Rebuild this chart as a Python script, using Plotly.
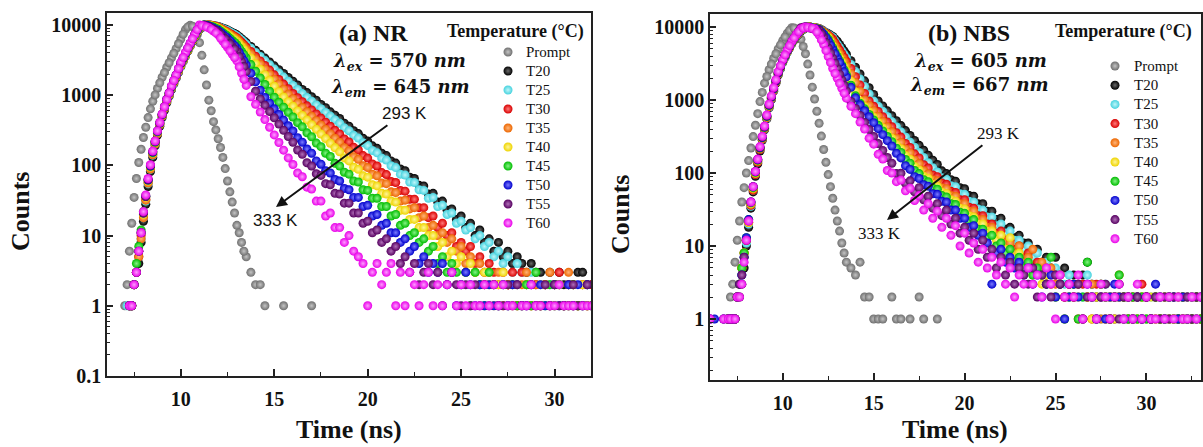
import plotly.graph_objects as go

# ---------------- data ----------------
time_ns = [6.0, 6.25, 6.5, 6.75, 7.0, 7.25, 7.5, 7.75, 8.0, 8.25,
           8.5, 8.75, 9.0, 9.25, 9.5, 9.75, 10.0, 10.25, 10.5, 10.75,
           11.0, 11.25, 11.5, 11.75, 12.0, 12.25, 12.5, 12.75, 13.0, 13.25,
           13.5, 13.75, 14.0, 14.25, 14.5, 14.75, 15.0, 15.25, 15.5, 15.75,
           16.0, 16.25, 16.5, 16.75, 17.0, 17.25, 17.5, 17.75, 18.0, 18.25,
           18.5, 18.75, 19.0, 19.25, 19.5, 19.75, 20.0, 20.25, 20.5, 20.75,
           21.0, 21.25, 21.5, 21.75, 22.0, 22.25, 22.5, 22.75, 23.0, 23.25,
           23.5, 23.75, 24.0, 24.25, 24.5, 24.75, 25.0, 25.25, 25.5, 25.75,
           26.0, 26.25, 26.5, 26.75, 27.0, 27.25, 27.5, 27.75, 28.0, 28.25,
           28.5, 28.75, 29.0, 29.25, 29.5, 29.75, 30.0, 30.25, 30.5, 30.75,
           31.0, 31.25, 31.5, 31.75, 32.0, 32.25, 32.5, 32.75, 33.0]

# extra channels read on the steep rise / peak region
time_fine = [7.125, 7.375, 7.625, 7.875, 8.125, 8.375, 8.625, 8.875, 9.125, 9.375,
             9.625, 9.875, 10.125, 10.375, 10.625, 10.875, 11.125, 11.375, 11.625, 11.875,
             12.125, 12.375, 12.625, 12.875, 13.125, 13.375]

series_names = ["Prompt", "T20", "T25", "T30", "T35", "T40", "T45", "T50", "T55", "T60"]

# ---- (a) NR ----
nr_prompt = [0, 0, 0, 0, 1, 6, 35, 110, 250, 480,
             820, 1250, 1800, 2500, 3400, 4600, 6300, 8600, 9900, 8800,
             5600, 2300, 850, 420, 240, 130, 60, 30, 14, 8,
             5, 3, 2, 2, 1, 0, 0, 0, 1, 0,
             0, 0, 0, 0, 1, 0, 0, 0, 0, 0,
             0, 0, 0, 0, 0, 0, 0, 0, 0, 0,
             0, 0, 0, 0, 0, 0, 0, 0, 0, 0,
             0, 0, 0, 0, 0, 0, 0, 0, 0, 0,
             0, 0, 0, 0, 0, 0, 0, 0, 0, 0,
             0, 0, 0, 0, 0, 0, 0, 0, 0, 0,
             0, 0, 0, 0, 0, 0, 0, 0, 0]
nr_t20 = [0, 0, 0, 0, 0, 1, 2, 4, 16, 50,
          130, 270, 480, 780, 1200, 1750, 2550, 3600, 5000, 6800,
          8700, 9700, 10000, 9770, 9550, 9020, 8510, 7850, 7240, 6380,
          5620, 4950, 4360, 3840, 3380, 2980, 2620, 2310, 2040, 1790,
          1580, 1400, 1210, 1090, 950, 850, 740, 665, 580, 520,
          465, 400, 362, 312, 284, 244, 222, 190, 175, 149,
          138, 116, 108, 89, 84, 68, 65, 52, 51, 39,
          40, 30, 31, 23, 24, 17, 19, 13, 15, 10,
          12, 8, 9, 6, 8, 5, 6, 4, 5, 4,
          3, 4, 3, 3, 2, 3, 2, 3, 2, 2,
          1, 3, 3, 2, 2, 1, 2, 1, 2]
nr_t25 = [0, 0, 0, 0, 0, 1, 2, 5, 18, 55,
          140, 285, 500, 810, 1230, 1800, 2600, 3650, 5050, 6900,
          8800, 9800, 10000, 9770, 9440, 8870, 8320, 7640, 7000, 6110,
          5330, 4670, 4070, 3560, 3110, 2720, 2370, 2070, 1810, 1580,
          1380, 1210, 1055, 929, 822, 728, 643, 569, 504, 446,
          398, 343, 312, 268, 245, 210, 192, 163, 151, 127,
          119, 99, 93, 75, 73, 58, 57, 45, 44, 34,
          35, 26, 27, 20, 21, 15, 16, 12, 13, 9,
          10, 7, 8, 5, 6, 4, 5, 3, 4, 3,
          2, 3, 2, 1, 2, 2, 1, 2, 1, 2,
          2, 1, 2, 2, 1, 2, 1, 1, 2]
nr_t30 = [0, 0, 0, 0, 0, 1, 2, 5, 19, 58,
          145, 290, 510, 830, 1270, 1850, 2700, 3750, 5150, 7000,
          9000, 9900, 10000, 9770, 9330, 8610, 7940, 7240, 6610, 5680,
          4870, 4190, 3590, 3080, 2650, 2280, 1950, 1680, 1440, 1240,
          1060, 923, 807, 706, 618, 541, 472, 413, 361, 316,
          281, 238, 216, 181, 166, 138, 127, 105, 98, 79,
          74, 59, 57, 44, 43, 33, 33, 25, 25, 18,
          19, 13, 15, 10, 11, 7, 8, 6, 7, 4,
          5, 3, 4, 3, 2, 3, 2, 3, 1, 3,
          2, 1, 2, 1, 2, 1, 2, 3, 1, 2,
          1, 1, 2, 1, 2, 1, 1, 2, 1]
nr_t35 = [0, 0, 0, 0, 0, 1, 2, 5, 18, 56,
          142, 285, 505, 820, 1250, 1830, 2650, 3700, 5100, 6950,
          9100, 9900, 10000, 9660, 9230, 8470, 7760, 7000, 6310, 5350,
          4540, 3850, 3270, 2770, 2350, 1995, 1690, 1440, 1220, 1030,
          891, 772, 668, 579, 501, 434, 376, 326, 282, 244,
          214, 179, 161, 133, 122, 99, 93, 75, 71, 56,
          55, 42, 41, 31, 32, 24, 25, 18, 19, 13,
          14, 10, 11, 8, 9, 6, 7, 4, 5, 3,
          4, 2, 3, 2, 3, 1, 2, 2, 1, 2,
          3, 1, 2, 1, 2, 3, 1, 2, 1, 3,
          2, 1, 2, 1, 1, 2, 1, 1, 2]
nr_t40 = [0, 0, 0, 0, 0, 1, 2, 6, 20, 60,
          150, 300, 520, 850, 1300, 1900, 2750, 3800, 5200, 7100,
          9100, 10000, 9890, 9550, 9020, 8180, 7410, 6610, 5890, 4900,
          4070, 3380, 2810, 2340, 1945, 1620, 1340, 1120, 942, 809,
          695, 597, 514, 442, 379, 326, 280, 241, 207, 178,
          156, 128, 116, 94, 88, 71, 68, 53, 51, 40,
          39, 31, 30, 23, 23, 17, 17, 13, 13, 10,
          10, 7, 8, 5, 6, 4, 5, 3, 4, 3,
          2, 3, 2, 1, 2, 3, 2, 1, 2, 1,
          2, 1, 1, 2, 2, 1, 2, 2, 1, 1,
          2, 1, 2, 1, 1, 2, 1, 2, 1]
nr_t45 = [0, 0, 0, 0, 0, 1, 2, 7, 22, 62,
          152, 300, 525, 860, 1310, 1920, 2800, 3850, 5300, 7200,
          9300, 10000, 9770, 9330, 8710, 7760, 6920, 6030, 5250, 4220,
          3400, 2730, 2190, 1760, 1420, 1140, 936, 794, 674, 572,
          490, 406, 354, 291, 256, 208, 185, 149, 134, 107,
          98, 80, 75, 60, 58, 45, 44, 34, 34, 26,
          26, 19, 20, 14, 15, 10, 11, 8, 9, 6,
          7, 4, 5, 3, 4, 3, 2, 3, 1, 3,
          2, 1, 3, 2, 1, 2, 1, 2, 1, 1,
          2, 1, 3, 1, 1, 2, 1, 2, 1, 1,
          2, 1, 1, 1, 1, 2, 1, 1, 1]
nr_t50 = [0, 0, 0, 0, 0, 1, 2, 6, 21, 62,
          155, 305, 530, 870, 1320, 1930, 2850, 3950, 5400, 7300,
          9700, 10000, 9660, 9020, 8320, 7330, 6460, 5500, 4680, 3550,
          2700, 2050, 1550, 1180, 929, 771, 640, 532, 442, 367,
          310, 248, 214, 171, 149, 116, 104, 84, 78, 63,
          60, 47, 45, 35, 35, 26, 27, 19, 20, 14,
          15, 11, 11, 8, 9, 6, 7, 4, 5, 3,
          4, 3, 4, 2, 3, 1, 2, 3, 2, 1,
          2, 1, 2, 1, 1, 2, 1, 2, 2, 1,
          1, 2, 1, 2, 1, 1, 2, 1, 1, 2,
          1, 2, 1, 2, 1, 1, 2, 1, 1]
nr_t55 = [0, 0, 0, 0, 0, 1, 2, 6, 21, 63,
          158, 310, 535, 880, 1330, 1950, 2880, 4000, 5450, 7400,
          9800, 9950, 9440, 8710, 7940, 6840, 5890, 4950, 4170, 3010,
          2180, 1570, 1140, 884, 719, 586, 477, 388, 316, 258,
          214, 166, 144, 109, 98, 76, 72, 55, 53, 40,
          39, 29, 29, 21, 21, 15, 16, 11, 12, 8,
          9, 6, 7, 4, 5, 3, 4, 2, 3, 4,
          2, 3, 1, 2, 3, 2, 1, 2, 1, 2,
          1, 2, 1, 2, 1, 1, 2, 1, 2, 1,
          1, 2, 1, 1, 2, 1, 2, 1, 1, 1,
          2, 1, 1, 2, 1, 1, 1, 2, 1]
nr_t60 = [0, 0, 0, 0, 0, 1, 2, 6, 22, 65,
          160, 310, 540, 870, 1350, 1950, 2950, 4070, 5500, 7400,
          10000, 9660, 9120, 8220, 7240, 5890, 4790, 3850, 3090, 2070,
          1380, 951, 741, 577, 449, 349, 272, 212, 165, 128,
          103, 78, 69, 49, 46, 31, 31, 19, 21, 13,
          13, 8, 10, 6, 5, 4, 1, 3, 4, 2,
          3, 4, 1, 3, 1, 3, 2, 1, 2, 3,
          1, 2, 1, 2, 3, 1, 2, 1, 2, 1,
          1, 2, 1, 2, 1, 2, 1, 1, 0, 1,
          1, 2, 1, 1, 0, 1, 1, 2, 1, 1,
          1, 0, 1, 1, 1, 2, 1, 1, 1]

nr_prompt_fine = [2, 15, 65, 170, 350, 640, 1010, 1500, 2100, 2900, 3950, 5400, 7400,
                  9400, 9600, 7200, 3700, 1400, 600, 320, 180, 90, 42, 21, 11, 6]
nr_t20_fine = [0, 1, 3, 8, 28, 82, 190, 360, 610, 970, 1450, 2110, 3030,
               4240, 5830, 7700, 9200, 9900, 9900, 9660, 9280, 8760, 8170, 7540, 6800, 5990]
nr_t25_fine = [1, 1, 3, 9, 31, 88, 200, 380, 640, 1000, 1490, 2160, 3080,
               4290, 5900, 7800, 9300, 9900, 9880, 9600, 9150, 8590, 7970, 7310, 6540, 5710]
nr_t30_fine = [0, 1, 3, 10, 33, 92, 205, 385, 650, 1030, 1530, 2230, 3180,
               4400, 6000, 7940, 9440, 9950, 9880, 9550, 8960, 8270, 7580, 6920, 6130, 5260]
nr_t35_fine = [0, 1, 3, 9, 32, 89, 201, 380, 645, 1010, 1510, 2200, 3130,
               4340, 5950, 7950, 9490, 9950, 9830, 9440, 8840, 8110, 7370, 6650, 5810, 4930]
nr_t40_fine = [0, 1, 3, 11, 35, 95, 212, 395, 665, 1050, 1570, 2290, 3230,
               4450, 6080, 8040, 9540, 9950, 9720, 9280, 8590, 7790, 7000, 6240, 5370, 4470]
nr_t45_fine = [0, 1, 4, 12, 37, 97, 214, 397, 670, 1060, 1590, 2320, 3280,
               4520, 6180, 8180, 9640, 9880, 9550, 9010, 8220, 7330, 6460, 5630, 4710, 3790]
nr_t50_fine = [0, 1, 3, 11, 36, 98, 218, 402, 680, 1070, 1600, 2350, 3360,
               4620, 6280, 8410, 9850, 9830, 9330, 8660, 7810, 6880, 5960, 5070, 4080, 3100]
nr_t55_fine = [0, 1, 3, 11, 36, 100, 221, 407, 686, 1080, 1610, 2370, 3390,
               4670, 6350, 8520, 9870, 9690, 9070, 8320, 7370, 6350, 5400, 4540, 3540, 2560]
nr_t60_fine = [0, 1, 3, 11, 38, 102, 223, 409, 685, 1080, 1620, 2400, 3460,
               4730, 6380, 8600, 9830, 9390, 8660, 7710, 6530, 5310, 4290, 3450, 2530, 1690]

# ---- (b) NBS ----
nbs_prompt = [0, 0, 0, 0, 1, 3, 12, 40, 100, 220,
              450, 950, 1700, 2600, 3700, 5000, 6500, 8200, 9800, 9000,
              6800, 4300, 2200, 1030, 480, 210, 95, 45, 22, 11,
              6, 5, 4, 6, 2, 2, 1, 1, 1, 0,
              2, 1, 1, 0, 1, 0, 2, 1, 0, 0,
              1, 0, 0, 0, 0, 0, 0, 0, 0, 0,
              0, 0, 0, 0, 0, 0, 0, 0, 0, 0,
              0, 0, 0, 0, 0, 0, 0, 0, 0, 0,
              0, 0, 0, 0, 0, 0, 0, 0, 0, 0,
              0, 0, 0, 0, 0, 0, 0, 0, 0, 0,
              0, 0, 0, 0, 0, 0, 0, 0, 0]
nbs_t20 = [0, 0, 0, 0, 1, 1, 2, 3, 10, 33,
           90, 200, 390, 780, 1320, 2200, 3250, 4500, 5900, 7400,
           8800, 9700, 10000, 9770, 9550, 8790, 8090, 7430, 6370, 5190,
           4230, 3450, 2810, 2270, 1830, 1470, 1190, 968, 830, 710,
           608, 520, 446, 381, 327, 279, 239, 205, 175, 150,
           131, 107, 98, 81, 77, 63, 61, 49, 48, 38,
           38, 30, 30, 23, 24, 17, 18, 13, 14, 11,
           11, 8, 9, 6, 7, 5, 7, 4, 5, 3,
           4, 3, 4, 6, 3, 2, 3, 2, 1, 2,
           3, 2, 1, 2, 2, 1, 2, 1, 2, 1,
           2, 1, 2, 1, 1, 2, 1, 2, 1]
nbs_t25 = [0, 0, 0, 0, 1, 1, 2, 4, 11, 35,
           95, 210, 400, 800, 1350, 2250, 3300, 4550, 6000, 7500,
           8900, 9800, 10000, 9770, 9510, 8670, 7890, 7190, 5810, 4700,
           3790, 3070, 2450, 1940, 1530, 1210, 968, 822, 700, 596,
           506, 431, 366, 311, 265, 225, 191, 163, 138, 118,
           103, 86, 82, 67, 65, 52, 51, 41, 40, 32,
           31, 25, 25, 19, 20, 15, 16, 12, 12, 9,
           10, 7, 8, 5, 6, 4, 5, 4, 3, 4,
           2, 3, 2, 4, 3, 2, 1, 3, 2, 1,
           2, 1, 2, 1, 1, 2, 1, 2, 1, 2,
           1, 2, 1, 1, 2, 1, 2, 1, 1]
nbs_t30 = [0, 0, 0, 0, 1, 1, 2, 5, 12, 36,
           95, 210, 405, 810, 1370, 2270, 3350, 4600, 6050, 7600,
           9000, 9950, 10000, 9730, 9440, 8570, 7780, 6870, 5430, 4310,
           3400, 2700, 2080, 1600, 1230, 968, 820, 697, 590, 501,
           430, 356, 310, 254, 224, 183, 161, 130, 117, 94,
           89, 73, 70, 56, 54, 43, 43, 34, 33, 26,
           26, 20, 20, 15, 16, 12, 12, 9, 10, 7,
           8, 5, 6, 4, 5, 3, 4, 3, 2, 3,
           2, 1, 3, 2, 1, 3, 2, 1, 2, 1,
           2, 1, 2, 1, 2, 3, 2, 1, 1, 2,
           1, 2, 1, 1, 2, 1, 1, 2, 1]
nbs_t35 = [0, 0, 0, 0, 1, 1, 2, 5, 12, 37,
           98, 215, 410, 820, 1380, 2290, 3380, 4650, 6100, 7650,
           9100, 9950, 9930, 9660, 9380, 8390, 7520, 6210, 4860, 3800,
           2980, 2290, 1730, 1320, 1000, 844, 713, 601, 508, 429,
           366, 300, 262, 213, 188, 151, 134, 108, 97, 81,
           78, 63, 61, 49, 48, 38, 38, 30, 30, 23,
           23, 18, 18, 14, 14, 11, 11, 8, 10, 6,
           7, 9, 5, 6, 4, 5, 3, 4, 2, 3,
           2, 3, 1, 2, 3, 2, 1, 2, 1, 2,
           4, 2, 1, 2, 1, 2, 2, 1, 2, 1,
           1, 2, 1, 1, 2, 1, 2, 1, 1]
nbs_t40 = [0, 0, 0, 0, 1, 1, 2, 5, 12, 38,
           100, 218, 415, 830, 1400, 2300, 3400, 4680, 6150, 7700,
           9150, 9950, 9930, 9660, 9330, 8200, 7190, 5560, 4300, 3320,
           2520, 1820, 1300, 966, 816, 689, 582, 491, 415, 350,
           300, 245, 215, 174, 154, 123, 110, 90, 85, 70,
           66, 55, 52, 43, 41, 33, 32, 26, 25, 20,
           20, 16, 16, 12, 14, 9, 13, 7, 8, 5,
           6, 4, 5, 3, 4, 3, 2, 3, 1, 2,
           3, 2, 1, 2, 1, 2, 3, 1, 2, 1,
           2, 1, 2, 1, 1, 2, 1, 2, 1, 1,
           2, 1, 1, 2, 1, 1, 2, 1, 1]
nbs_t45 = [0, 0, 0, 0, 1, 1, 2, 5, 13, 39,
           102, 220, 420, 840, 1410, 2320, 3430, 4700, 6200, 7750,
           9200, 9980, 9890, 9590, 9290, 8050, 6810, 5190, 3950, 3010,
           2210, 1590, 1140, 902, 757, 635, 533, 449, 377, 316,
           268, 219, 191, 153, 136, 108, 98, 81, 76, 62,
           60, 49, 47, 38, 37, 29, 28, 22, 23, 17,
           17, 13, 14, 10, 11, 8, 9, 6, 7, 5,
           6, 4, 5, 4, 3, 7, 2, 3, 1, 2,
           3, 1, 2, 6, 2, 1, 3, 2, 1, 2,
           4, 2, 1, 2, 1, 2, 1, 1, 2, 1,
           1, 2, 1, 1, 2, 1, 1, 2, 1]
nbs_t50 = [1, 1, 0, 1, 1, 1, 2, 4, 13, 40,
           104, 222, 425, 850, 1420, 2340, 3450, 4720, 6250, 7800,
           9300, 10000, 9820, 9510, 9230, 7910, 6460, 4910, 3740, 2850,
           2070, 1490, 1070, 859, 711, 589, 489, 405, 335, 277,
           234, 186, 161, 126, 112, 89, 84, 69, 66, 52,
           51, 41, 40, 31, 31, 24, 24, 18, 19, 14,
           15, 11, 3, 8, 9, 6, 7, 5, 6, 4,
           5, 3, 4, 2, 3, 4, 2, 3, 1, 2,
           3, 2, 1, 3, 2, 1, 2, 1, 2, 3,
           2, 1, 2, 1, 2, 1, 2, 1, 3, 2,
           1, 2, 2, 1, 2, 1, 2, 1, 2]
nbs_t55 = [1, 0, 0, 1, 1, 1, 2, 4, 12, 40,
           105, 225, 430, 860, 1440, 2380, 3480, 4780, 6300, 7850,
           9800, 10000, 9660, 9330, 9020, 7190, 5190, 3740, 2700, 1890,
           1330, 957, 767, 614, 492, 394, 316, 253, 203, 163,
           136, 98, 99, 72, 78, 55, 63, 43, 48, 33,
           38, 26, 31, 20, 24, 15, 18, 12, 15, 9,
           12, 7, 9, 5, 7, 4, 6, 3, 5, 4,
           3, 5, 2, 4, 3, 2, 4, 3, 2, 3,
           2, 3, 1, 2, 2, 1, 2, 3, 1, 2,
           1, 2, 2, 1, 2, 1, 2, 1, 2, 1,
           2, 1, 2, 2, 1, 2, 1, 2, 2]
nbs_t60 = [1, 0, 0, 1, 1, 1, 2, 3, 12, 40,
           105, 230, 440, 880, 1480, 2450, 3550, 4850, 6350, 7900,
           9400, 10000, 9770, 9460, 7730, 5740, 3940, 2700, 1980, 1450,
           1060, 822, 650, 498, 400, 300, 248, 180, 155, 108,
           100, 76, 80, 57, 62, 42, 49, 31, 38, 24,
           30, 18, 24, 14, 19, 10, 15, 8, 11, 6,
           9, 5, 7, 4, 6, 3, 5, 2, 4, 3,
           5, 3, 4, 2, 5, 3, 1, 4, 2, 3,
           2, 4, 1, 3, 2, 1, 3, 2, 1, 2,
           3, 1, 2, 1, 3, 1, 2, 1, 1, 2,
           1, 2, 1, 2, 1, 1, 2, 1, 2]

nbs_prompt_fine = [2, 6, 22, 63, 148, 315, 650, 1270, 2100, 3100, 4300, 5700, 7300,
                   9000, 9700, 7900, 5400, 3100, 1500, 700, 320, 140, 65, 31, 16, 8]
nbs_t20_fine = [1, 1, 2, 5, 18, 55, 134, 280, 550, 1010, 1700, 2670, 3820,
                5150, 6600, 8070, 9240, 9850, 9880, 9660, 9160, 8430, 7750, 6880, 5750, 4690]
nbs_t25_fine = [1, 1, 3, 7, 20, 58, 141, 290, 565, 1040, 1740, 2720, 3870,
                5220, 6700, 8170, 9340, 9900, 9880, 9640, 9080, 8270, 7530, 6460, 5230, 4220]
nbs_t30_fine = [1, 1, 3, 8, 21, 58, 141, 292, 573, 1050, 1760, 2760, 3930,
                5280, 6780, 8270, 9460, 9970, 9860, 9580, 8990, 8160, 7310, 6110, 4840, 3830]
nbs_t35_fine = [1, 1, 3, 8, 21, 60, 145, 297, 580, 1060, 1780, 2780, 3960,
                5330, 6830, 8340, 9520, 9940, 9790, 9520, 8870, 7940, 6830, 5490, 4300, 3370]
nbs_t40_fine = [1, 1, 3, 8, 21, 62, 148, 301, 587, 1080, 1790, 2800, 3990,
                5360, 6880, 8390, 9540, 9940, 9790, 9490, 8750, 7680, 6320, 4890, 3780, 2890]
nbs_t45_fine = [1, 1, 3, 8, 23, 63, 150, 304, 594, 1090, 1810, 2820, 4010,
                5400, 6930, 8440, 9580, 9930, 9740, 9440, 8650, 7400, 5950, 4530, 3450, 2580]
nbs_t50_fine = [1, 1, 3, 7, 23, 65, 152, 307, 601, 1100, 1820, 2840, 4040,
                5430, 6980, 8520, 9640, 9910, 9660, 9370, 8540, 7150, 5630, 4290, 3260, 2430]
nbs_t55_fine = [1, 1, 3, 7, 22, 65, 154, 311, 608, 1110, 1850, 2880, 4080,
                5490, 7030, 8770, 9900, 9830, 9490, 9170, 8050, 6110, 4410, 3180, 2260, 1590]
nbs_t60_fine = [1, 1, 2, 6, 22, 65, 155, 318, 622, 1140, 1900, 2950, 4150,
                5550, 7080, 8620, 9700, 9880, 9610, 8550, 6660, 4760, 3260, 2310, 1690, 1240]

nr_series = [nr_prompt, nr_t20, nr_t25, nr_t30, nr_t35, nr_t40, nr_t45, nr_t50, nr_t55, nr_t60]
nr_fine = [nr_prompt_fine, nr_t20_fine, nr_t25_fine, nr_t30_fine, nr_t35_fine,
           nr_t40_fine, nr_t45_fine, nr_t50_fine, nr_t55_fine, nr_t60_fine]
nbs_series = [nbs_prompt, nbs_t20, nbs_t25, nbs_t30, nbs_t35, nbs_t40, nbs_t45, nbs_t50, nbs_t55, nbs_t60]
nbs_fine = [nbs_prompt_fine, nbs_t20_fine, nbs_t25_fine, nbs_t30_fine, nbs_t35_fine,
            nbs_t40_fine, nbs_t45_fine, nbs_t50_fine, nbs_t55_fine, nbs_t60_fine]
for grp in (nr_series, nbs_series):
    for nm, arr in zip(series_names, grp):
        assert len(arr) == len(time_ns), (nm, len(arr))
for grp in (nr_fine, nbs_fine):
    for nm, arr in zip(series_names, grp):
        assert len(arr) == len(time_fine), (nm, len(arr))

# ---------------- styling ----------------
edge_colors = ["#6f6f6f", "#000000", "#45d2de", "#d80000", "#ec6600", "#eed400",
               "#00bc00", "#0000cc", "#560060", "#e800e8"]
core_colors = ["#c4c4c4", "#6a6a6a", "#bff6fa", "#ff7a7a", "#ffb478", "#fff59a",
               "#86f286", "#7c7cff", "#b070b8", "#ff9cff"]

W, H = 1203, 447
def px(x):
    return x / W
def py(y):
    return 1 - y / H

SERIF = "Liberation Serif"
fig = go.Figure()

def add_panel(series, fine, xa, ya):
    for nm, vals, fv, ce, cc in zip(series_names, series, fine, edge_colors, core_colors):
        xs = time_ns + time_fine
        yv = [v if v > 0 else None for v in vals + fv]
        fig.add_trace(go.Scatter(
            x=xs, y=yv, mode="markers", name=nm, xaxis=xa, yaxis=ya,
            showlegend=False, hoverinfo="skip",
            marker=dict(size=9, color=ce, line=dict(width=0),
                        gradient=dict(type="radial", color=cc))))

add_panel(nr_series, nr_fine, "x", "y")
add_panel(nbs_series, nbs_fine, "x2", "y2")

# legend symbols drawn on an auxiliary pixel-scaled overlay axis
def add_legend(x_marker, y0, dy):
    ys = [y0 + dy * i for i in range(len(series_names))]
    fig.add_trace(go.Scatter(
        x=[x_marker] * len(series_names), y=ys, mode="markers", xaxis="x3", yaxis="y3",
        showlegend=False, hoverinfo="skip",
        marker=dict(size=9, color=edge_colors, line=dict(width=0),
                    gradient=dict(type="radial", color=core_colors))))
    return ys

ys_left = add_legend(508, 52, 19.0)
ys_right = add_legend(1115, 66, 19.2)

tick_font = dict(family=SERIF, size=20, color="#111", weight="bold")
minor_x = dict(tickvals=[7.5, 12.5, 17.5, 22.5, 27.5, 32.5], ticks="inside",
               ticklen=4, tickwidth=1.2, tickcolor="#222", showgrid=False)
minor_y = dict(tickvals=[k * 10.0 ** e for e in range(-1, 4) for k in range(2, 10)],
               ticks="inside", ticklen=3, tickwidth=1.0, tickcolor="#222", showgrid=False)

def xaxis_cfg(dom, rng, anchor):
    return dict(domain=dom, range=rng, anchor=anchor, automargin=False, showline=True,
                linewidth=1.6, linecolor="#222", mirror=True, ticks="inside", ticklen=7,
                tickwidth=1.5, tickcolor="#222", showgrid=False, zeroline=False,
                tickfont=tick_font, tickmode="array", tickvals=[10, 15, 20, 25, 30],
                minor=minor_x, ticklabelstandoff=4)

def yaxis_cfg(dom, rng, anchor):
    return dict(domain=dom, range=rng, type="log", anchor=anchor, automargin=False,
                showline=True, linewidth=1.6, linecolor="#222", mirror=True, ticks="inside",
                ticklen=6, tickwidth=1.5, tickcolor="#222", showgrid=False, zeroline=False,
                tickfont=tick_font, tickmode="array",
                tickvals=[0.1, 1, 10, 100, 1000, 10000],
                ticktext=["0.1", "1", "10", "100", "1000", "10000"], minor=minor_y)

fig.update_layout(
    width=W, height=H, margin=dict(l=0, r=0, t=0, b=0, autoexpand=False),
    paper_bgcolor="white", plot_bgcolor="rgba(0,0,0,0)", showlegend=False,
    xaxis=xaxis_cfg([px(107), px(591)], [6.05, 31.95], "y"),
    yaxis=yaxis_cfg([py(376), py(13)], [-1.0, 4.171], "x"),
    xaxis2=xaxis_cfg([px(710), px(1201)], [6.0, 33.0], "y2"),
    yaxis2=yaxis_cfg([py(380), py(14)], [-0.836, 4.178], "x2"),
    xaxis3=dict(domain=[0, 1], range=[0, W], visible=False, anchor="y3",
                fixedrange=True, automargin=False),
    yaxis3=dict(domain=[0, 1], range=[H, 0], visible=False, anchor="x3",
                fixedrange=True, automargin=False),
)

ann = []
def text(x, y, s, size, family=SERIF, bold=False, angle=0, xanchor="center", color="#111"):
    ann.append(dict(x=px(x), y=py(y), xref="paper", yref="paper", text=s, showarrow=False,
                    textangle=angle, xanchor=xanchor, yanchor="middle",
                    font=dict(family=family, size=size, color=color,
                              weight="bold" if bold else "normal")))

# axis titles
text(20, 212, "Counts", 26, bold=True, angle=-90)
text(621, 215, "Counts", 26, bold=True, angle=-90)
text(349, 429, "Time (ns)", 26, bold=True)
text(955, 429, "Time (ns)", 26, bold=True)

# panel labels
text(373, 33, "(a) NR", 24, bold=True)
text(969, 33, "(b) NBS", 24, bold=True)
text(399, 62, "<b><i>λ</i><sub><i>ex</i></sub> = 570 <i>nm</i></b>", 18, family="DejaVu Serif")
text(400, 88, "<b><i>λ</i><sub><i>em</i></sub> = 645 <i>nm</i></b>", 18, family="DejaVu Serif")
text(980, 62, "<b><i>λ</i><sub><i>ex</i></sub> = 605 <i>nm</i></b>", 18, family="DejaVu Serif")
text(979, 86, "<b><i>λ</i><sub><i>em</i></sub> = 667 <i>nm</i></b>", 18, family="DejaVu Serif")

# temperature arrows: the arrow starts at the "293 K" label and points toward "333 K"
def arrow_label(label, tx, ty, hx, hy, family):
    ann.append(dict(x=px(hx), y=py(hy), xref="paper", yref="paper", text=label,
                    showarrow=True, ax=tx - hx, ay=ty - hy, arrowhead=2, arrowsize=1.1,
                    arrowwidth=2, arrowcolor="#111", standoff=0, startstandoff=2,
                    font=dict(family=family, size=17, color="#111")))

arrow_label("293 K", 404, 113, 276, 207, "Liberation Sans")
text(275, 220, "333 K", 17, family="Liberation Sans")
arrow_label("293 K", 998, 133, 887, 220, SERIF)
text(879, 233, "333 K", 17)

# legend header + labels
text(515, 31, "Temperature (°C)", 18, bold=True)
text(1123, 32, "Temperature (°C)", 18, bold=True)
for nm, yy in zip(series_names, ys_left):
    text(524, yy, nm, 15, xanchor="left")
for nm, yy in zip(series_names, ys_right):
    text(1132, yy, nm, 15, xanchor="left")

fig.update_layout(annotations=ann)

fig.write_html("out.html", config={"displayModeBar": False},
               post_script="document.body.style.margin='0';document.body.style.overflow='hidden';")
